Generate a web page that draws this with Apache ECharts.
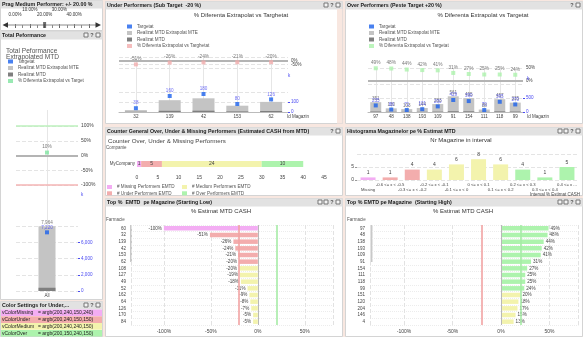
<!DOCTYPE html>
<html>
<head>
<meta charset="utf-8">
<title>MTD Performance Dashboard</title>
<script src="https://cdn.jsdelivr.net/npm/echarts@6/dist/echarts.min.js"></script>
<style>
html,body{margin:0;padding:0;background:#f8e7e0;}
#dash{width:583px;height:337px;}
</style>
</head>
<body>
<div id="dash"></div>
<script>
// ---- Medium-performer threshold slider ----
const sliderMin = 0;
const sliderMax = 50;
const sliderValue = 20;

// ---- Colour variables ----
const colorVars = ['vColorMissing', 'vColorUnder', 'vColorMedium', 'vColorOver'];
const colorValues = ['argb(200,240,150,240)', 'argb(200,240,150,150)', 'argb(200,240,240,150)', 'argb(200,150,240,150)'];

// ---- Total performance ----
const totalCategory = ['All'];
const totalExtrap = [7964];
const totalRealized = [400];
const totalTarget = [7220];
const totalDiff = [10];
const pctRefLines = [100, 0, -100];

// ---- Under performers ----
const underStores = ['32', '139', '42', '153', '62'];
const underExtrap = [19, 118, 137, 63, 101];
const underRealized = [2, 12, 13, 6, 10];
const underTarget = [38, 160, 180, 80, 126];
const underDiff = [-51, -26, -24, -21, -20];

// ---- Over performers ----
const overStores = ['97', '48', '138', '193', '109', '91', '154', '111', '118', '99'];
const overExtrap = [351, 130, 103, 144, 283, 561, 495, 88, 457, 335];
const overRealized = [18, 7, 5, 7, 14, 28, 25, 4, 23, 17];
const overTarget = [235, 88, 71, 101, 200, 429, 390, 70, 365, 270];
const overDiff = [49, 48, 44, 42, 41, 31, 27, 25, 25, 24];

// ---- Counter of performers ----
const counterCategory = ['MyCompany'];
const countMissing = [1];
const countUnder = [5];
const countMedium = [24];
const countOver = [10];

// ---- Histogram ----
const histBins = ['Missing', '-0.6 <= x < -0.5', '-0.3 <= x < -0.2', '-0.2 <= x < -0.1', '-0.1 <= x < 0',
  '0 <= x < 0.1', '0.1 <= x < 0.2', '0.2 <= x < 0.3', '0.3 <= x < 0.4', '0.4 <= x ...'];
const histCounts = [1, 1, 4, 4, 6, 8, 6, 4, 1, 5];
const histGroups = ['missing', 'under', 'under', 'medium', 'medium', 'medium', 'medium', 'over', 'over', 'over'];

// ---- Top lists ----
const lowStores = ['60', '32', '139', '42', '153', '62', '108', '127', '49', '52', '162', '64', '126', '170', '84'];
const lowPct = [-100, -51, -26, -24, -21, -20, -20, -19, -18, -11, -9, -8, -7, -5, -5];
const lowGroups = ['missing', 'under', 'under', 'under', 'under', 'under', 'medium', 'medium', 'medium', 'medium',
  'medium', 'medium', 'medium', 'medium', 'medium'];
const highStores = ['97', '48', '138', '193', '109', '91', '154', '111', '118', '99', '151', '120', '204', '146', '4'];
const highPct = [49, 48, 44, 42, 41, 31, 27, 25, 25, 24, 20, 18, 17, 15, 13];
const highGroups = ['over', 'over', 'over', 'over', 'over', 'over', 'over', 'over', 'over', 'over',
  'medium', 'medium', 'medium', 'medium', 'medium'];
const bandLines = [-20, 0, 20];

// ---------------------------------------------------------------
const FONT = 'Liberation Sans';
const TXT = '#444';
const BLUE = '#1c62ec';
const BLUE_TXT = '#4a4af2';
const BAR_LIGHT = '#c4c4c4';
const BAR_DARK = '#7f7f7f';
const SPLIT = '#e4e4e4';

// argb(a,r,g,b) blended over white
function argbToCss(s) {
  const [a, r, g, b] = s.match(/\d+/g).map(Number);
  const t = a / 255;
  const mix = c => Math.round(c * t + 255 * (1 - t));
  return `rgb(${mix(r)},${mix(g)},${mix(b)})`;
}
const palette = {
  missing: argbToCss(colorValues[0]),
  under: argbToCss(colorValues[1]),
  medium: argbToCss(colorValues[2]),
  over: argbToCss(colorValues[3])
};

const fmtNum = v => Number(v).toLocaleString('en-US');

// ---------------- graphic frame ----------------
const G = [];
function rect(x, y, w, h, fill, stroke, z) {
  G.push({ type: 'rect', silent: true, z: z == null ? -10 : z,
    shape: { x, y, width: w, height: h },
    style: { fill, stroke: stroke || null, lineWidth: stroke ? 1 : 0 } });
}
function text(x, y, t, opt) {
  G.push({ type: 'text', silent: true, z: 50, x, y,
    style: Object.assign({ text: t, fontSize: 5, fontFamily: FONT, fill: '#333', align: 'left', verticalAlign: 'middle' }, opt || {}) });
}
function line(x1, y1, x2, y2, stroke, w) {
  G.push({ type: 'line', silent: true, z: 5, shape: { x1, y1, x2, y2 }, style: { stroke, lineWidth: w || 1 } });
}
function icons(xr, y, n) {
  for (let i = 0; i < n; i++) {
    const x = xr - 6 - i * 6;
    if (i === 1) {
      text(x + 2, y + 4, '?', { fontSize: 5.5, fill: '#555', align: 'center', fontWeight: 'bold' });
    } else {
      rect(x, y + 2, 4, 4, '#f4f4f4', '#777', -8);
    }
  }
}
function panel(x, y, w, h, title, nIcons) {
  rect(x + 0.5, y + 0.5, w - 1, h - 1, '#ffffff', '#d4d4d4', -10);
  rect(x + 0.5, y + 0.5, w - 1, 8, '#e2e2e2', null, -9);
  text(x + 2, y + 4.6, title, { fontSize: 5.3, fill: '#1a1a1a', fontWeight: 'bold' });
  icons(x + w - 1, y, nIcons);
}

panel(0, 0, 103, 31, 'Prag Medium Performer: +/- 20.00 %', 0);
panel(0, 31, 103, 269, 'Total Peformance', 3);
panel(0, 301, 103, 36, 'Color Settings for Under,...', 3);
panel(105, 1, 238, 123, 'Under Performers (Sub Target  -20 %)', 3);
panel(345, 1, 238, 123, 'Over Performers (Peste Target +20 %)', 2);
panel(105, 127, 238, 69, 'Counter General Over, Under & Missing Performers (Estimated CASH from MTD)', 2);
panel(345, 127, 238, 69, 'Histograma Magazinelor pe % Estimat MTD', 4);
panel(105, 198, 238, 139, 'Top %  EMTD  pe Magazine (Starting Low)', 4);
panel(345, 198, 238, 139, 'Top % EMTD pe Magazine  (Starting High)', 4);
rect(337, 9, 5.5, 114.5, '#f8e7e0', null, -9);

// slider track
line(6, 25, 98, 25, '#8a8a8a', 1);
G.push({ type: 'polygon', silent: true, z: 5, shape: { points: [[2.5, 25], [8, 22.3], [8, 27.7]] }, style: { fill: '#333' } });
G.push({ type: 'polygon', silent: true, z: 5, shape: { points: [[101, 25], [95.5, 22.3], [95.5, 27.7]] }, style: { fill: '#333' } });

// colour variable rows
colorVars.forEach((name, i) => {
  const y = 309.5 + i * 6.8;
  rect(1, y, 101, 6.6, palette[['missing', 'under', 'medium', 'over'][i]], null, -8);
  text(2, y + 3.4, name, { fontSize: 5, fill: '#222' });
  text(38, y + 3.4, '= ' + colorValues[i], { fontSize: 5, fill: '#222' });
});

// chart captions
text(6, 51, 'Total Peformance', { fontSize: 6.6, fill: '#555' });
text(6, 57.5, 'Extrapolated MTD', { fontSize: 6.6, fill: '#555' });
text(241, 15, '% Diferenta Extrapolat vs Targhetat', { fontSize: 6, align: 'center' });
text(483, 15, '% Diferenta Extrapolat vs Targetat', { fontSize: 6, align: 'center' });
text(108, 141, 'Counter Over, Under & Missing Performers', { fontSize: 6.2, fill: '#444' });
text(106, 148, 'Companie', { fontSize: 4.5, fill: '#555' });
text(461, 140, 'Nr Magazine in interval', { fontSize: 6, align: 'center' });
text(580, 194.5, 'Interval % Estimat CASH', { fontSize: 4.5, align: 'right', fill: TXT });
text(221, 211, '% Estimat MTD CASH', { fontSize: 6, align: 'center' });
text(463, 211, '% Estimat MTD CASH', { fontSize: 6, align: 'center' });
text(106, 219.5, 'Farmacie', { fontSize: 4.5, fill: '#555' });
text(347, 219.5, 'Farmacie', { fontSize: 4.5, fill: '#555' });
text(287, 116.5, 'Id Magazin', { fontSize: 4.5, fill: TXT });
text(527, 116.5, 'Id Magazin', { fontSize: 4.5, fill: TXT });
text(288, 76, 'k', { fontSize: 4.5, fill: BLUE_TXT });
text(527, 78.5, 'k', { fontSize: 4.5, fill: BLUE_TXT });
text(81, 195, 'k', { fontSize: 4.5, fill: BLUE_TXT });

// scroll bars of the top lists
rect(130, 225, 2, 37, '#c9c9c9', null, -5);
rect(370.5, 225, 2, 37, '#c9c9c9', null, -5);

// ---------------- grids ----------------
const gridBase = { outerBoundsMode: 'none', containLabel: false };
const totalBarRect = { left: 16, top: 226, width: 62, height: 65 };
const underBarRect = { left: 119, top: 92, width: 169, height: 20 };
const overBarRect = { left: 368, top: 84, width: 155, height: 28 };
const grids = [
  { left: 15, top: 22, width: 74, height: 6 },        // 0 slider
  { left: 16, top: 110, width: 62, height: 186 },     // 1 total guide lines
  { left: 16, top: 126, width: 62, height: 59 },      // 2 total %
  totalBarRect,                                       // 3 total bars
  { left: 119, top: 58, width: 169, height: 54 },     // 4 under guide lines
  { left: 119, top: 57, width: 169, height: 11 },     // 5 under %
  underBarRect,                                       // 6 under bars
  { left: 368, top: 68, width: 155, height: 44 },     // 7 over guide lines
  { left: 368, top: 68, width: 155, height: 13 },     // 8 over %
  overBarRect,                                        // 9 over bars
  { left: 137, top: 158, width: 187, height: 12 },    // 10 counter
  { left: 357, top: 154, width: 221, height: 26 },    // 11 histogram
  { left: 131, top: 225, width: 202, height: 100 },   // 12 starting low
  { left: 370, top: 225, width: 208.6, height: 100 }, // 13 starting high
  totalBarRect,                                       // 14 total realized
  underBarRect,                                       // 15 under realized
  overBarRect                                         // 16 over realized
].map(g => Object.assign({}, gridBase, g));

const lbl = (size, color, extra) => Object.assign({ fontSize: size, color, fontFamily: FONT }, extra || {});
const noLine = { show: false };
const xAxes = [];
const yAxes = [];
const series = [];

// 0 slider
xAxes.push({ type: 'value', gridIndex: 0, min: sliderMin, max: sliderMax, interval: 10, position: 'top',
  axisLine: noLine, splitLine: noLine,
  axisTick: { show: true, length: 4, lineStyle: { color: '#666' } },
  minorTick: { show: true, splitNumber: 2, length: 3, lineStyle: { color: '#888' } },
  axisLabel: lbl(4.5, '#333', { margin: 5, lineHeight: 5,
    formatter: v => (v / 10) % 2 === 1 ? v.toFixed(2) + '%\n ' : ' \n' + v.toFixed(2) + '%' }) });
yAxes.push({ type: 'value', gridIndex: 0, min: 0, max: 1, show: false });
series.push({ type: 'scatter', xAxisIndex: 0, yAxisIndex: 0, data: [[sliderValue, 0.5]], symbol: 'rect',
  symbolSize: [3, 6], itemStyle: { color: '#4a4a4a' }, silent: true, z: 6 });

// vertical category guides, kept behind the bars
function guides(gi, cats) {
  xAxes.push({ type: 'category', gridIndex: gi, data: cats, show: false });
  yAxes.push({ type: 'value', gridIndex: gi, min: 0, max: 1, show: false });
  series.push({ type: 'line', xAxisIndex: gi, yAxisIndex: gi, data: cats.map((c, i) => [i, 0]),
    symbol: 'none', lineStyle: { opacity: 0 }, silent: true, z: 1,
    markLine: { silent: true, symbol: 'none', z: 1, label: { show: false }, animation: false,
      lineStyle: { color: '#e6e6e6', type: 'solid', width: 1 },
      data: cats.map((c, i) => ({ xAxis: i })) } });
}
function refLines(values, colorFor, widthFor) {
  return { silent: true, symbol: 'none', z: 2, label: { show: false }, animation: false,
    data: values.map(v => ({ yAxis: v, lineStyle: { color: colorFor(v), width: widthFor(v), type: 'solid' } })) };
}
const refColor = v => v > 0 ? '#bdf0bd' : v < 0 ? '#f4b4b4' : '#b4b4b4';
const refWidth = v => v === 0 ? 2 : 1.5;

function pctAxis(gi, cats, min, max, size) {
  xAxes.push({ type: 'category', gridIndex: gi, data: cats, show: false });
  yAxes.push({ type: 'value', gridIndex: gi, min, max, interval: 50, position: 'right',
    axisLine: noLine, axisTick: noLine,
    splitLine: { show: true, lineStyle: { color: SPLIT, type: 'dashed' } },
    axisLabel: lbl(size, TXT, { margin: 3, formatter: '{value}%' }) });
}
function barAxis(gi, cats, max, interval, showCats) {
  xAxes.push({ type: 'category', gridIndex: gi, data: cats,
    axisLine: { show: showCats, lineStyle: { color: '#bbb' } }, axisTick: noLine,
    axisLabel: lbl(4.6, TXT, { margin: 2.5, interval: 0 }) });
  yAxes.push({ type: 'value', gridIndex: gi, min: 0, max, interval, position: 'right',
    axisLine: noLine,
    axisTick: { show: true, length: 2, lineStyle: { color: BLUE_TXT } },
    splitLine: { show: true, lineStyle: { color: SPLIT, type: 'dashed' } },
    axisLabel: lbl(4.6, BLUE_TXT, { margin: 3, showMaxLabel: false, formatter: v => fmtNum(v) }) });
}
function realizedAxis(gi, cats, max) {
  xAxes.push({ type: 'category', gridIndex: gi, data: cats, show: false });
  yAxes.push({ type: 'value', gridIndex: gi, min: 0, max, show: false });
}
function barSeries(gi, ri, extrap, realized, target, width, grayLabels) {
  series.push({ type: 'bar', name: 'Realizat MTD Extrapolat MTE', xAxisIndex: gi, yAxisIndex: gi, data: extrap,
    barWidth: width, itemStyle: { color: BAR_LIGHT }, z: 2,
    label: { show: grayLabels, position: 'top', distance: 1, fontSize: 4.6, color: '#7a7a7a', fontFamily: FONT,
      formatter: p => fmtNum(p.value) } });
  series.push({ type: 'bar', name: 'Realizat MTD', xAxisIndex: ri, yAxisIndex: ri, data: realized,
    barWidth: width, itemStyle: { color: BAR_DARK }, z: 3 });
  series.push({ type: 'scatter', name: 'Targetat', xAxisIndex: gi, yAxisIndex: gi, data: target,
    symbol: 'rect', symbolSize: 4, itemStyle: { color: BLUE }, z: 5,
    label: { show: true, position: 'top', distance: 0.5, fontSize: 4.6, color: BLUE_TXT, fontFamily: FONT,
      formatter: p => fmtNum(p.value) } });
}
function diffSeries(gi, name, data, color, refs) {
  series.push({ type: 'scatter', name, xAxisIndex: gi, yAxisIndex: gi, data,
    symbol: 'rect', symbolSize: 4, itemStyle: { color }, z: 5,
    label: { show: true, position: 'top', distance: 1, fontSize: 4.8, color: '#555', fontFamily: FONT,
      formatter: p => p.value + '%' },
    markLine: refLines(refs, refColor, refWidth) });
}

// 1-3 total
guides(1, totalCategory);
pctAxis(2, totalCategory, -100, 100, 5);
diffSeries(2, '% Diferenta Extrapolat vs Target', totalDiff, '#7fe3a0', pctRefLines);
barAxis(3, totalCategory, 8000, 2000, false);

// 4-6 under
guides(4, underStores);
pctAxis(5, underStores, -100, 50, 4.5);
diffSeries(5, '% Diferenta Extrapolat vs Targhetat', underDiff, palette.under, [0]);
barAxis(6, underStores, 200, 100, true);

// 7-9 over
guides(7, overStores);
pctAxis(8, overStores, 0, 50, 4.5);
diffSeries(8, '% Diferenta Extrapolat vs Targetat', overDiff, palette.over, [0]);
barAxis(9, overStores, 1000, 500, true);

// 10 counter
xAxes.push({ type: 'value', gridIndex: 10, min: 0, max: 45, interval: 5,
  axisLine: noLine, axisTick: noLine, splitLine: noLine,
  axisLabel: lbl(5, TXT, { margin: 5.5 }) });
yAxes.push({ type: 'category', gridIndex: 10, data: counterCategory,
  axisLine: noLine, axisTick: noLine, axisLabel: lbl(4.5, TXT, { margin: 2 }) });
[['# Missing Performers EMTD', countMissing, palette.missing],
 ['# Under Performers EMTD', countUnder, palette.under],
 ['# Medium Performers EMTD', countMedium, palette.medium],
 ['# Over Performers EMTD', countOver, palette.over]].forEach(([name, data, color]) => {
  series.push({ type: 'bar', name, xAxisIndex: 10, yAxisIndex: 10, data, stack: 'perf', barWidth: 6,
    itemStyle: { color },
    label: { show: true, position: 'inside', fontSize: 5, color: '#444', fontFamily: FONT } });
});

// 11 histogram
xAxes.push({ type: 'category', gridIndex: 11, data: histBins,
  axisLine: noLine, axisTick: noLine,
  axisLabel: lbl(4.2, TXT, { margin: 2.5, interval: 0, lineHeight: 4.6, hideOverlap: false,
    formatter: (v, i) => i % 2 === 0 ? ' \n' + v : v + '\n ' }) });
yAxes.push({ type: 'value', gridIndex: 11, min: 0, max: 10, interval: 5,
  axisLine: noLine, axisTick: { show: true, length: 2, lineStyle: { color: '#999' } },
  splitLine: { show: true, lineStyle: { color: SPLIT, type: 'dashed' } },
  axisLabel: lbl(5, TXT, { margin: 3, showMaxLabel: false }) });
series.push({ type: 'bar', name: 'Nr Magazine', xAxisIndex: 11, yAxisIndex: 11, barWidth: 15,
  data: histCounts.map((v, i) => ({ value: v, itemStyle: { color: palette[histGroups[i]] } })),
  label: { show: true, position: 'top', distance: 2, fontSize: 5, color: '#444', fontFamily: FONT } });

// 12-13 top lists
function topList(gi, stores, pct, groups, labelPos) {
  xAxes.push({ type: 'value', gridIndex: gi, min: -135, max: 80, splitNumber: 5,
    axisLine: noLine, axisTick: noLine,
    splitLine: { show: true, lineStyle: { color: '#e2e2e2', type: 'dashed' } },
    axisLabel: lbl(5, TXT, { margin: 4, formatter: v => v % 50 === 0 ? v + '%' : '' }) });
  yAxes.push({ type: 'category', gridIndex: gi, data: stores, inverse: true,
    axisLine: noLine, axisTick: noLine,
    splitLine: { show: true, lineStyle: { color: '#ececec', type: 'dotted' } },
    axisLabel: lbl(4.5, TXT, { margin: 5, interval: 0 }) });
  series.push({ type: 'bar', name: '% Estimat MTD CASH', xAxisIndex: gi, yAxisIndex: gi, barWidth: 4.5,
    data: pct.map((v, i) => ({ value: v, itemStyle: { color: palette[groups[i]] } })),
    label: { show: true, position: labelPos, distance: 2, fontSize: 4.6, color: '#444', fontFamily: FONT,
      formatter: p => p.value + '%' },
    markLine: { silent: true, symbol: 'none', label: { show: false }, animation: false,
      data: bandLines.map(v => ({ xAxis: v, lineStyle: {
        color: v < 0 ? '#f2a3a3' : v > 0 ? '#a6eba6' : '#b8b8b8', width: v === 0 ? 1 : 1.6, type: 'solid' } })) } });
}
topList(12, lowStores, lowPct, lowGroups, 'left');
topList(13, highStores, highPct, highGroups, 'right');

// 14-16 realized bars drawn over the extrapolated ones
realizedAxis(14, totalCategory, 8000);
realizedAxis(15, underStores, 200);
realizedAxis(16, overStores, 1000);
barSeries(3, 14, totalExtrap, totalRealized, totalTarget, 17, true);
barSeries(6, 15, underExtrap, underRealized, underTarget, 22, false);
barSeries(9, 16, overExtrap, overRealized, overTarget, 11, true);

// legends
const legendText = { fontSize: 4.6, color: '#555', fontFamily: FONT };
function chartLegend(left, top, diffName) {
  return { orient: 'vertical', left, top, itemWidth: 5, itemHeight: 4, itemGap: 1.5, padding: 0,
    textStyle: legendText, selectedMode: false,
    data: [{ name: 'Targetat', icon: 'rect' }, { name: 'Realizat MTD Extrapolat MTE', icon: 'rect' },
      { name: 'Realizat MTD', icon: 'rect' }, { name: diffName, icon: 'rect' }] };
}
const legends = [
  chartLegend(8, 59, '% Diferenta Extrapolat vs Target'),
  chartLegend(127, 24, '% Diferenta Extrapolat vs Targhetat'),
  chartLegend(369, 24, '% Diferenta Extrapolat vs Targetat'),
  { orient: 'vertical', left: 107, top: 184.5, itemWidth: 5, itemHeight: 4, itemGap: 1.3, padding: 0,
    textStyle: legendText, selectedMode: false,
    data: [{ name: '# Missing Performers EMTD', icon: 'rect' }, { name: '# Under Performers EMTD', icon: 'rect' }] },
  { orient: 'vertical', left: 182, top: 184.5, itemWidth: 5, itemHeight: 4, itemGap: 1.3, padding: 0,
    textStyle: legendText, selectedMode: false,
    data: [{ name: '# Medium Performers EMTD', icon: 'rect' }, { name: '# Over Performers EMTD', icon: 'rect' }] }
];

const chart = echarts.init(document.getElementById('dash'), null, { renderer: 'canvas', width: 583, height: 337 });
chart.setOption({
  animation: false,
  backgroundColor: '#f8e7e0',
  textStyle: { fontFamily: FONT },
  tooltip: { show: false },
  grid: grids,
  xAxis: xAxes,
  yAxis: yAxes,
  legend: legends,
  graphic: { elements: G },
  series
});
</script>
</body>
</html>
